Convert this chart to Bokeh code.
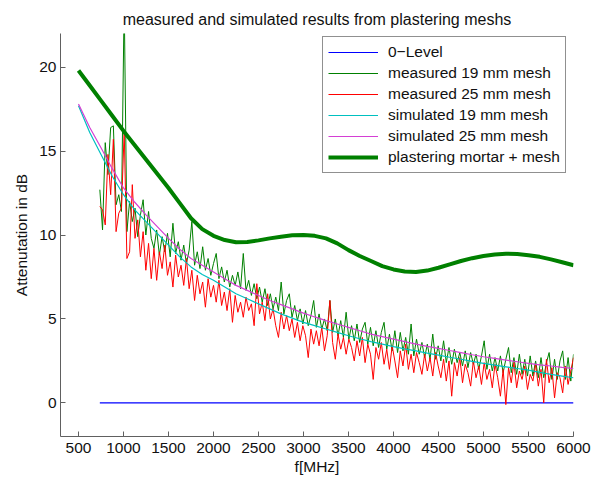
import numpy as np
from bokeh.plotting import figure
from bokeh.models import Legend, LegendItem, FixedTicker, Range1d
from bokeh.embed import file_html
from bokeh.resources import INLINE

# ---- data ----
freq_smooth = list(range(500, 6001, 125))
sim19 = [17.7, 16.1, 14.8, 13.5, 12.4, 11.5, 10.8, 10.1, 9.4, 8.7, 8.1, 7.65,
         7.3, 6.9, 6.5, 6.2, 5.9, 5.6, 5.3, 5.05, 4.8, 4.6, 4.4, 4.2,
         4.0, 3.82, 3.65, 3.5, 3.35, 3.22, 3.1, 2.97, 2.85, 2.72, 2.6, 2.47,
         2.35, 2.25, 2.15, 2.05, 1.95, 1.82, 1.7, 1.6, 1.5]
sim25 = [17.8, 16.4, 15.2, 13.95, 12.8, 11.95, 11.2, 10.5, 9.8, 9.15, 8.6, 8.2,
         7.8, 7.4, 7.0, 6.7, 6.4, 6.1, 5.85, 5.6, 5.35, 5.12, 4.9, 4.7,
         4.5, 4.3, 4.1, 3.95, 3.8, 3.65, 3.5, 3.37, 3.25, 3.12, 3.0, 2.87,
         2.75, 2.65, 2.55, 2.45, 2.35, 2.27, 2.2, 2.12, 2.05]
mortar = [19.8, 18.9, 18.0, 17.1, 16.2, 15.35, 14.5, 13.65, 12.8, 11.9, 11.0, 10.35,
          9.95, 9.7, 9.57, 9.58, 9.68, 9.8, 9.9, 9.98, 10.0, 9.95, 9.8, 9.5,
          9.1, 8.75, 8.45, 8.15, 7.95, 7.83, 7.8, 7.88, 8.05, 8.25, 8.45, 8.62,
          8.75, 8.84, 8.88, 8.87, 8.8, 8.7, 8.55, 8.38, 8.2]

freq_meas = np.linspace(737, 6000, 176)
meas19 = [
    12.7, 10.3, 15.5, 13.6, 16.4, 16.5, 11.8, 12.4, 11.4, 24.0,
    10.2, 12.0, 10.8, 11.6, 9.9, 11.2, 12.1, 10.0, 11.4, 9.8,
    9.2, 10.3, 8.8, 9.9, 9.0, 10.1, 8.7, 10.7, 8.9, 9.6,
    8.5, 9.4, 8.3, 9.1, 10.8, 8.2, 9.0, 8.0, 9.3, 7.9,
    8.6, 7.6, 8.3, 8.9, 7.4, 8.1, 7.2, 7.9, 6.9, 7.6,
    7.0, 7.8, 6.8, 8.9, 6.7, 7.3, 6.4, 7.1, 6.2, 6.9,
    6.0, 6.8, 5.8, 6.5, 5.6, 6.3, 5.5, 7.2, 5.3, 6.1,
    6.5, 5.1, 5.8, 4.9, 5.6, 4.7, 5.5, 4.6, 5.2, 6.1,
    4.5, 5.3, 4.4, 5.0, 4.3, 6.1, 4.2, 5.0, 4.0, 4.9,
    3.9, 5.4, 3.8, 4.6, 3.7, 4.7, 3.6, 4.4, 4.8, 3.5,
    4.5, 3.4, 4.3, 3.3, 4.2, 4.8, 3.2, 4.1, 3.1, 4.3,
    3.0, 4.2, 3.1, 3.9, 2.9, 4.7, 2.8, 3.8, 2.9, 3.6,
    2.7, 3.5, 2.6, 4.1, 2.6, 3.4, 2.5, 3.7, 2.4, 3.3,
    2.3, 3.2, 2.4, 3.0, 2.2, 3.1, 2.1, 3.0, 2.3, 2.9,
    2.0, 2.8, 3.7, 2.0, 2.9, 1.9, 2.7, 1.9, 2.8, 1.8,
    2.6, 3.3, 1.8, 2.7, 1.7, 2.9, 1.7, 2.6, 1.6, 2.8,
    1.6, 2.5, 1.5, 2.7, 1.5, 2.4, 3.0, 1.4, 2.6, 1.4,
    2.5, 3.1, 1.4, 2.7, 1.3, 2.9,
]
meas25 = [
    11.7, 11.5, 10.6, 14.8, 12.4, 15.7, 10.2, 11.3, 11.6, 16.2,
    8.6, 9.0, 13.0, 9.8, 10.9, 8.7, 10.2, 7.9, 9.5, 7.4,
    9.2, 7.3, 9.0, 8.0, 9.4, 7.6, 8.4, 6.9, 8.8, 7.5,
    8.2, 7.0, 8.6, 6.8, 7.9, 6.1, 7.6, 6.5, 7.2, 5.7,
    7.4, 6.3, 7.0, 6.0, 7.3, 5.8, 6.6, 5.5, 6.8, 4.8,
    6.4, 5.4, 6.0, 5.1, 6.3, 5.5, 5.9, 4.6, 7.1, 5.3,
    6.0, 4.9, 6.5, 5.0, 5.6, 4.6, 3.9, 5.4, 4.4, 5.2,
    4.3, 5.0, 3.9, 4.8, 3.7, 4.6, 4.0, 2.7, 4.4, 3.5,
    4.3, 3.4, 4.5, 3.1, 4.0, 6.1, 3.6, 2.6, 4.1, 3.2,
    3.9, 2.9, 3.8, 3.3, 2.5, 3.7, 2.8, 3.9, 2.4, 3.5,
    2.9, 1.4, 3.3, 2.6, 3.6, 2.3, 3.2, 2.0, 3.4, 2.5,
    1.5, 3.1, 2.2, 3.5, 2.0, 2.9, 1.8, 3.0, 2.4, 1.7,
    2.9, 1.9, 2.7, 1.6, 3.0, 2.2, 1.5, 2.6, 1.3, 2.5,
    0.4, 2.4, 1.6, 2.7, 1.2, 2.3, 1.8, 1.0, 2.5, 1.5,
    2.2, 1.1, 2.4, 1.4, 2.0, 0.9, 2.3, 1.5, 0.4, 2.0,
    -0.1, 2.1, 1.2, 2.4, 0.9, 1.9, 1.4, 2.2, 0.8, 1.7,
    1.3, 2.3, 1.0, 2.0, 0.0, 2.6, 1.2, 2.1, 0.3, 1.8,
    1.5, 0.6, 2.2, 1.1, 1.9, 2.7,
]
zero_f = [737, 6000]
zero_db = [0, 0]

x_ticks = [500, 1000, 1500, 2000, 2500, 3000, 3500, 4000, 4500, 5000, 5500, 6000]
y_ticks = [0, 5, 10, 15, 20]

FONT = "Liberation Sans"
FS = "15.5px"

p = figure(width=602, height=479, output_backend="svg", toolbar_location=None,
           x_range=Range1d(300, 6000), y_range=Range1d(-2, 22),
           title="measured and simulated results from plastering meshs",
           min_border_left=60, min_border_right=29, min_border_top=33, min_border_bottom=43)
p.outline_line_color = None
p.grid.visible = False
p.background_fill_color = "white"
p.border_fill_color = "white"

p.title.align = "center"
p.title.text_font = FONT
p.title.text_font_size = "16px"
p.title.text_font_style = "normal"
p.title.text_color = "#111111"
p.title.standoff = 11

for ax in (p.xaxis[0], p.yaxis[0]):
    ax.axis_line_color = "#606060"
    ax.major_tick_line_color = "#606060"
    ax.major_tick_in = 5
    ax.major_tick_out = 0
    ax.minor_tick_line_color = None
    ax.major_label_text_font = FONT
    ax.major_label_text_font_size = FS
    ax.major_label_text_color = "#111111"
    ax.axis_label_text_font = FONT
    ax.axis_label_text_font_size = FS
    ax.axis_label_text_font_style = "normal"
    ax.axis_label_text_color = "#111111"
    ax.major_label_standoff = 4

p.xaxis[0].ticker = FixedTicker(ticks=x_ticks)
p.yaxis[0].ticker = FixedTicker(ticks=y_ticks)
p.xaxis[0].axis_label = "f[MHz]"
p.yaxis[0].axis_label = "Attenutation in dB"
p.xaxis[0].major_label_standoff = 6
p.xaxis[0].axis_label_standoff = 2
p.yaxis[0].axis_label_standoff = 6

r0 = p.line(zero_f, zero_db, line_color="#0000ff", line_width=1.2)
r1 = p.line(freq_meas, meas19, line_color="#008000", line_width=1)
r2 = p.line(freq_meas, meas25, line_color="#ff0000", line_width=1)
r3 = p.line(freq_smooth, sim19, line_color="#00c0c0", line_width=1.2)
r4 = p.line(freq_smooth, sim25, line_color="#d43fd4", line_width=1.2)
r5 = p.line(freq_smooth, mortar, line_color="#008000", line_width=4)

legend = Legend(items=[
    LegendItem(label="0\u2212Level", renderers=[r0]),
    LegendItem(label="measured 19 mm mesh", renderers=[r1]),
    LegendItem(label="measured 25 mm mesh", renderers=[r2]),
    LegendItem(label="simulated 19 mm mesh", renderers=[r3]),
    LegendItem(label="simulated 25 mm mesh", renderers=[r4]),
    LegendItem(label="plastering mortar + mesh", renderers=[r5]),
], location=(262, 263))
legend.padding = 5
legend.spacing = 1
legend.margin = 0
legend.glyph_width = 50
legend.glyph_height = 20
legend.label_height = 20
legend.label_standoff = 10
legend.label_text_font = FONT
legend.label_text_font_size = FS
legend.label_text_color = "#111111"
legend.border_line_color = "#222222"
legend.border_line_width = 1
legend.background_fill_color = "white"
legend.background_fill_alpha = 1
p.add_layout(legend, "center")

open("out.html", "w").write(file_html(p, INLINE))
